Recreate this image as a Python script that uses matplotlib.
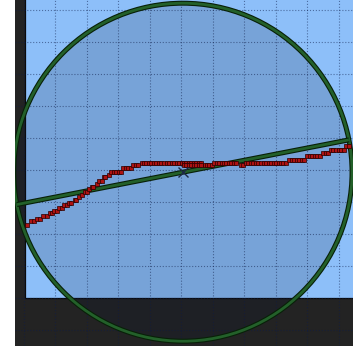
import matplotlib
matplotlib.use("Agg")
import matplotlib.pyplot as plt
from matplotlib.patches import Rectangle, Ellipse
import matplotlib.patheffects as pe
from matplotlib.ticker import MultipleLocator

# Sample points (x, y)
pts_x = [-9.0,
         -7.5, -6.7,
         -5.7, -4.9,
         -3.7, -2.7,
         -1.7, -1.1,
         -0.3, 0.5,
         1.4, 2.1,
         2.9, 3.7,
         4.4, 5.2,
         6.2, 6.8,
         7.6,
         8.6,
         9.5, 10.0,
         10.8,
         11.6, 12.2,
         13.2,
         14.1, 14.8,
         15.6, 16.0,
         17.0,
         17.9, 18.7, 19.5, 20.3, 20.8,
         21.7, 22.5, 23.3, 24.0,
         24.9, 25.7, 26.5,
         27.5, 28.2, 29.0, 29.8, 30.6, 31.4, 32.2, 33.0, 33.8, 34.6, 35.4,
         36.2, 37.0, 37.8, 38.6, 39.4, 40.2,
         41.0, 41.7, 42.5, 43.3, 44.1, 44.9, 45.7, 46.5,
         41.0, 41.7, 42.5, 43.3, 44.1, 44.9, 45.7, 46.5,
         47.5, 48.3, 49.0, 49.8,
         50.6, 51.3, 52.1, 52.9, 53.7, 54.4, 55.2, 56.0, 56.8, 57.6,
         58.9, 59.7,
         60.6, 61.4, 62.2, 63.0, 63.8, 64.6, 65.4, 66.2, 67.0, 67.8, 68.6,
         69.4, 70.2, 71.0, 71.7, 72.5, 73.3,
         74.3, 75.1, 75.9, 76.7, 77.5, 78.3, 79.1,
         80.0, 80.8, 81.6, 82.4, 83.2, 84.0,
         85.2, 86.0, 86.8,
         87.6, 88.4, 89.2, 90.0, 90.8, 91.6,
         92.5, 93.2]
pts_y = [22.8,
         24.1, 24.1,
         24.8, 24.8,
         25.6, 25.6,
         26.4, 26.4,
         27.2, 27.2,
         28.1, 28.1,
         29.1, 29.1,
         29.8, 29.8,
         30.6, 30.6,
         31.4,
         32.2,
         33.1, 33.1,
         34.1,
         34.7, 34.7,
         35.6,
         36.6, 36.6,
         37.7, 37.7,
         38.4,
         39.4, 39.4, 39.4, 39.4, 39.4,
         40.6, 40.6, 40.6, 40.6,
         41.6, 41.6, 41.6,
         42.3, 42.3, 42.3, 42.3, 42.3, 42.3, 42.3, 42.3, 42.3, 42.3, 42.3,
         42.3, 42.3, 42.3, 42.3, 42.3, 42.3,
         42.3, 42.3, 42.3, 42.3, 42.3, 42.3, 42.3, 42.3,
         41.6, 41.6, 41.6, 41.6, 41.6, 41.6, 41.6, 41.6,
         41.6, 41.6, 41.6, 41.6,
         42.2, 42.2, 42.2, 42.2, 42.2, 42.2, 42.2, 42.2, 42.2, 42.2,
         41.4, 41.4,
         42.2, 42.2, 42.2, 42.2, 42.2, 42.2, 42.2, 42.2, 42.2, 42.2, 42.2,
         42.2, 42.2, 42.2, 42.2, 42.2, 42.2,
         43.2, 43.2, 43.2, 43.2, 43.2, 43.2, 43.2,
         44.3, 44.3, 44.3, 44.3, 44.3, 44.3,
         45.3, 45.3, 45.3,
         46.3, 46.3, 46.3, 46.3, 46.3, 46.3,
         47.5, 47.5]

# Enclosing circle and principal axis
circle_center = (40.6, 39.3)
circle_semi_x = 53.7
circle_semi_y = 52.8
axis_start = (-12.1, 29.2)
axis_end = (93.3, 49.4)

# Valid region (lower-left corner)
region_x0 = -9.5
region_y0 = 0.0

fig = plt.figure(figsize=(3.53, 3.46), dpi=100, facecolor="white")
ax = fig.add_axes([15 / 353, 0, 338 / 353, 1])
ax.set_facecolor("#232323")
ax.set_xlim(-12.7, 94.6)
ax.set_ylim(-15.0, 93.1)
for s in ax.spines.values():
    s.set_visible(False)

ax.xaxis.set_major_locator(MultipleLocator(10))
ax.yaxis.set_major_locator(MultipleLocator(10))
ax.tick_params(length=0, labelleft=False, labelbottom=False)
ax.grid(True, linestyle=":", linewidth=0.8, color="#0c1c4a", alpha=0.5)

ax.add_patch(Rectangle((region_x0, region_y0), 200, 200,
                       facecolor="#8dbff9", edgecolor="#0a0a0a",
                       linewidth=0.9, zorder=0.5))

outline = [pe.Stroke(linewidth=3.6, foreground="#082008"), pe.Normal()]

ax.add_patch(Ellipse(circle_center, 2 * circle_semi_x, 2 * circle_semi_y,
                     facecolor="#0a1530", alpha=0.16, edgecolor="none",
                     zorder=2))
ax.add_patch(Ellipse(circle_center, 2 * circle_semi_x, 2 * circle_semi_y,
                     facecolor="none", edgecolor="#23602a", linewidth=2.0,
                     zorder=3, path_effects=outline))

ax.plot([axis_start[0], axis_end[0]], [axis_start[1], axis_end[1]],
        color="#23602a", linewidth=2.0, solid_capstyle="butt",
        path_effects=outline, zorder=4)

ax.plot(pts_x, pts_y, linestyle="none", marker="s", markersize=2.5,
        markerfacecolor="#ad1212", markeredgecolor="#2a0000",
        markeredgewidth=0.5, zorder=5)

ax.plot([circle_center[0]], [circle_center[1]], marker="x", markersize=7,
        markeredgewidth=1.0, color="#1c2a44", linestyle="none", zorder=6)

fig.savefig("out.png", dpi=100, facecolor="white")
